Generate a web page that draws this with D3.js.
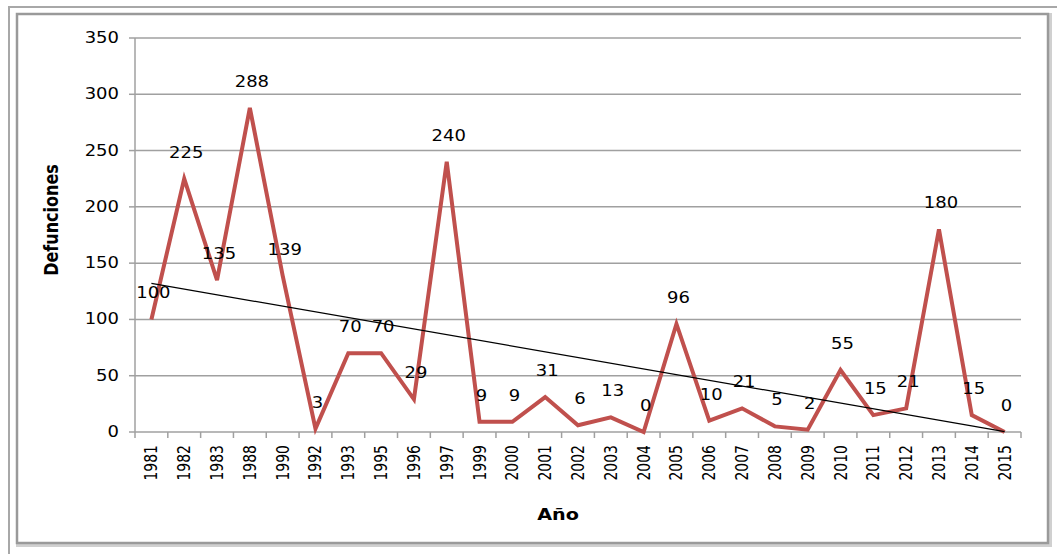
<!DOCTYPE html>
<html>
<head>
<meta charset="utf-8">
<script src="https://cdn.jsdelivr.net/npm/d3@7"></script>
<style>
  html, body { margin: 0; padding: 0; background: #fff; }
  svg text { font-family: "DejaVu Sans", Verdana, sans-serif; fill: #000; }
</style>
</head>
<body>
<div id="chart"></div>
<script>
// Defunciones por año, con línea de tendencia lineal

const years = ['1981', '1982', '1983', '1988', '1990', '1992', '1993', '1995', '1996', '1997',
               '1999', '2000', '2001', '2002', '2003', '2004', '2005', '2006', '2007', '2008',
               '2009', '2010', '2011', '2012', '2013', '2014', '2015'];
const deaths = [100, 225, 135, 288, 139, 3, 70, 70, 29, 240,
                9, 9, 31, 6, 13, 0, 96, 10, 21, 5,
                2, 55, 15, 21, 180, 15, 0];
const yTicks = [0, 50, 100, 150, 200, 250, 300, 350];

const width = 1057, height = 554;
const plot = { left: 135, right: 1021, top: 38, bottom: 432 };
const stretch = 1.2; // the picture is a bit wider than tall

const svg = d3.select("#chart").append("svg")
    .attr("width", width)
    .attr("height", height);

// frames
svg.append("path")
    .attr("d", `M9,${height} L9,7 L${width},7`)
    .attr("fill", "none")
    .attr("stroke", "#a8a8a8")
    .attr("stroke-width", 2);

svg.append("rect")
    .attr("x", 18).attr("y", 15)
    .attr("width", 1032).attr("height", 530)
    .attr("fill", "none")
    .attr("stroke", "#d0d0d0")
    .attr("stroke-width", 4);
svg.append("rect")
    .attr("x", 17).attr("y", 14)
    .attr("width", 1031).attr("height", 529)
    .attr("fill", "#fff")
    .attr("stroke", "#9a9a9a")
    .attr("stroke-width", 2.5);

const x = d3.scaleBand()
    .domain(years)
    .range([plot.left, plot.right])
    .padding(0);

const y = d3.scaleLinear()
    .domain([0, 350])
    .range([plot.bottom, plot.top]);

const cx = d => x(d) + x.bandwidth() / 2;

// gridlines
svg.append("g")
    .selectAll("line")
    .data(yTicks.filter(t => t > 0))
    .join("line")
    .attr("x1", plot.left).attr("x2", plot.right)
    .attr("y1", d => y(d)).attr("y2", d => y(d))
    .attr("stroke", "#a0a0a0")
    .attr("stroke-width", 1.5);

// y axis
const yAxis = svg.append("g");
yAxis.append("line")
    .attr("x1", plot.left).attr("x2", plot.left)
    .attr("y1", plot.top).attr("y2", plot.bottom)
    .attr("stroke", "#a0a0a0").attr("stroke-width", 1.5);
yAxis.selectAll("line.tick")
    .data(yTicks)
    .join("line")
    .attr("class", "tick")
    .attr("x1", plot.left - 6).attr("x2", plot.left)
    .attr("y1", d => y(d)).attr("y2", d => y(d))
    .attr("stroke", "#a0a0a0").attr("stroke-width", 1.5);
yAxis.selectAll("text")
    .data(yTicks)
    .join("text")
    .attr("transform", d => `translate(119,${y(d) + 5}) scale(${stretch},1)`)
    .attr("text-anchor", "end")
    .style("font-size", "15px")
    .text(d => d);

// x axis
const xAxis = svg.append("g");
xAxis.append("line")
    .attr("x1", plot.left).attr("x2", plot.right)
    .attr("y1", plot.bottom).attr("y2", plot.bottom)
    .attr("stroke", "#a0a0a0").attr("stroke-width", 1.5);
xAxis.selectAll("line.tick")
    .data(years.concat(["end"]))
    .join("line")
    .attr("class", "tick")
    .attr("x1", (d, i) => plot.left + i * x.step())
    .attr("x2", (d, i) => plot.left + i * x.step())
    .attr("y1", plot.bottom).attr("y2", plot.bottom + 6)
    .attr("stroke", "#a0a0a0").attr("stroke-width", 1.5);
xAxis.selectAll("text")
    .data(years)
    .join("text")
    .attr("transform", d => `translate(${cx(d) + 6},445) scale(${stretch},1) rotate(-90)`)
    .attr("text-anchor", "end")
    .style("font-size", "14px")
    .text(d => d);

// trend line (least squares over category index)
const n = deaths.length;
const idx = d3.range(1, n + 1);
const mx = d3.mean(idx), my = d3.mean(deaths);
const slope = d3.sum(idx, (v, i) => (v - mx) * (deaths[i] - my)) / d3.sum(idx, v => (v - mx) ** 2);
const intercept = my - slope * mx;

// data line
const line = d3.line()
    .x((d, i) => cx(years[i]))
    .y(d => y(d));

svg.append("path")
    .datum(deaths)
    .attr("d", line)
    .attr("fill", "none")
    .attr("stroke", "#c0504d")
    .attr("stroke-width", 4)
    .attr("stroke-linejoin", "miter");

svg.append("line")
    .attr("x1", cx(years[0])).attr("y1", y(intercept + slope * 1))
    .attr("x2", cx(years[n - 1])).attr("y2", y(intercept + slope * n))
    .attr("stroke", "#000")
    .attr("stroke-width", 1.2);

// data labels
svg.append("g")
    .selectAll("text")
    .data(deaths)
    .join("text")
    .attr("transform", (d, i) => `translate(${cx(years[i]) + 2},${y(d) - 21}) scale(${stretch},1)`)
    .attr("text-anchor", "middle")
    .style("font-size", "15px")
    .text(d => d);

// axis titles
svg.append("text")
    .attr("transform", `translate(${58},220) scale(${stretch},1) rotate(-90)`)
    .attr("text-anchor", "middle")
    .style("font-size", "16px")
    .style("font-weight", "bold")
    .text("Defunciones");

svg.append("text")
    .attr("transform", `translate(558,520) scale(${stretch},1)`)
    .attr("text-anchor", "middle")
    .style("font-size", "16px")
    .style("font-weight", "bold")
    .text("Año");
</script>
</body>
</html>
